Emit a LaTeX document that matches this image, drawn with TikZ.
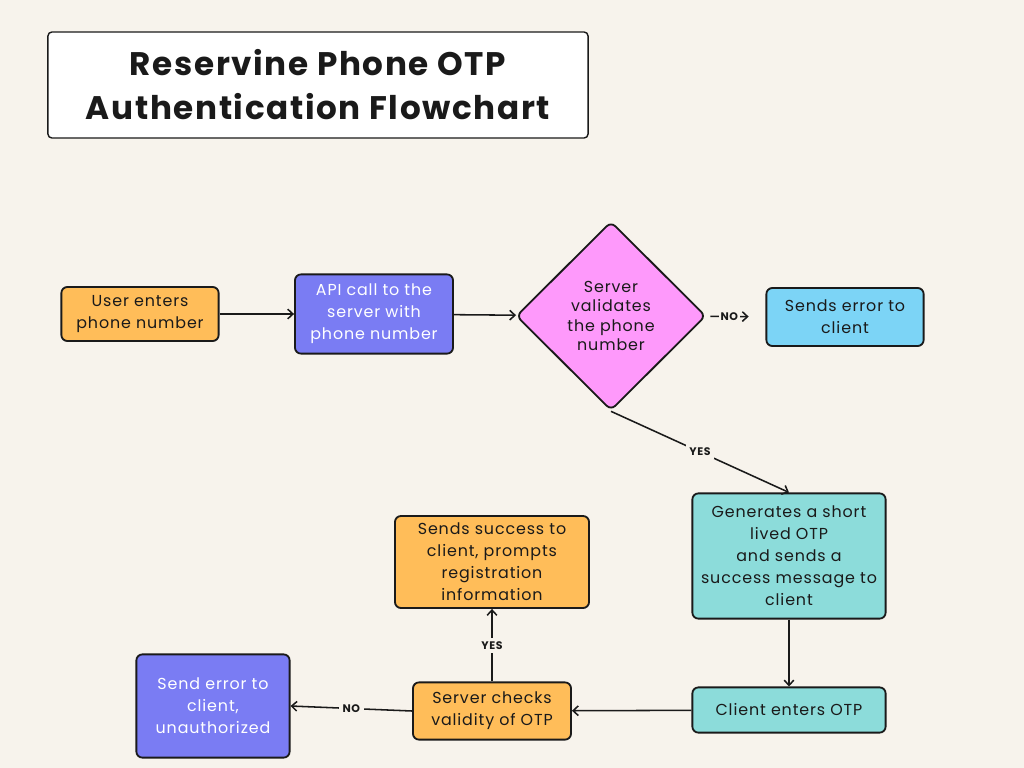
\documentclass[tikz,border=0pt]{standalone}
\usepackage{fontspec}
\setmainfont{Poppins}[LetterSpace=5.5]
\newfontfamily\titlefont{Poppins}[LetterSpace=5]
\usetikzlibrary{shapes.geometric}
\usetikzlibrary{arrows.meta}
\usetikzlibrary{positioning}

\definecolor{paper}{HTML}{F7F3EC}
\definecolor{boxorange}{HTML}{FFBD59}
\definecolor{boxpurple}{HTML}{7A7CF3}
\definecolor{boxpink}{HTML}{FE99FB}
\definecolor{boxblue}{HTML}{7CD4F6}
\definecolor{boxteal}{HTML}{8CDCDA}
\definecolor{ink}{HTML}{1A1A1A}

\begin{document}
\begin{tikzpicture}[x=0.025cm,y=-0.025cm,
    stepbox/.style={rectangle,draw=ink,line width=1.3pt,rounded corners=0.15cm,
        align=center,inner sep=0pt,text=ink,
        font=\fontsize{11.3}{15.6}\selectfont},
    decision/.style={diamond,draw=ink,line width=1.3pt,rounded corners=0.15cm,
        align=center,inner sep=0pt,aspect=1,fill=boxpink,text=ink,
        font=\fontsize{11.3}{13.6}\selectfont},
    flow/.style={draw=ink,line width=1.1pt,-{Straight Barb[length=1.3mm,width=2.4mm]}},
    answer/.style={fill=paper,inner sep=2.5pt,text=ink,
        font=\titlefont\bfseries\fontsize{7.8}{9}\selectfont}]

        % \draw [help lines,step=100] (0,0) grid (1024,768);

        \fill[paper] (0,0) rectangle (1024,768);
        \useasboundingbox (0,0) rectangle (1024,768);

        \node (title) [rectangle,draw=ink,line width=1pt,fill=white,rounded corners=0.1cm,
            minimum width=13.5cm,minimum height=2.65cm,align=center,text=ink,
            font=\titlefont\bfseries\fontsize{23.2}{31.2}\selectfont] at (318,85)
        {Reservine Phone OTP\\Authentication Flowchart};

        \path   (140,314) node (user) [stepbox,fill=boxorange,minimum width=3.93cm,minimum height=1.35cm]
                    {User enters\\phone number}
                (374,314) node (api) [stepbox,fill=boxpurple,text=white,minimum width=3.95cm,minimum height=1.98cm]
                    {API call to the\\server with\\phone number}
                (611,316) node (valid) [decision,minimum width=4.74cm,minimum height=4.72cm]
                    {Server\\validates\\the phone\\number}
                (845,317) node (phoneerr) [stepbox,fill=boxblue,minimum width=3.93cm,minimum height=1.45cm]
                    {Sends error to\\client}
                (789,556) node (genotp) [stepbox,fill=boxteal,minimum width=4.83cm,minimum height=3.13cm]
                    {Generates a short\\lived OTP\\and sends a\\success message to\\client}
                (789,710) node (entry) [stepbox,fill=boxteal,minimum width=4.83cm,minimum height=1.13cm]
                    {Client enters OTP}
                (492,711) node (checks) [stepbox,fill=boxorange,minimum width=3.95cm,minimum height=1.43cm]
                    {Server checks\\validity of OTP}
                (492,562) node (success) [stepbox,fill=boxorange,minimum width=4.85cm,minimum height=2.3cm]
                    {Sends success to\\client, prompts\\registration\\information}
                (213,706) node (unauth) [stepbox,fill=boxpurple,text=white,minimum width=3.83cm,minimum height=2.58cm]
                    {Send error to\\client,\\unauthorized};

        \draw[flow] (user) -- (api);
        \draw[flow] (api) -- (valid);
        \draw[flow,shorten <=0.1cm,shorten >=0.42cm] (valid) -- node[answer,inner xsep=1.5pt,pos=0.39] {NO} (phoneerr);
        \draw[flow] (valid.south) -- node[answer] {YES} (genotp.north);
        \draw[flow] (genotp) -- (entry);
        \draw[flow] (entry) -- (checks);
        \draw[flow] (checks) -- node[answer] {YES} (success);
        \draw[flow] (checks.west) -- node[answer] {NO} (unauth.east);

\end{tikzpicture}
\end{document}
